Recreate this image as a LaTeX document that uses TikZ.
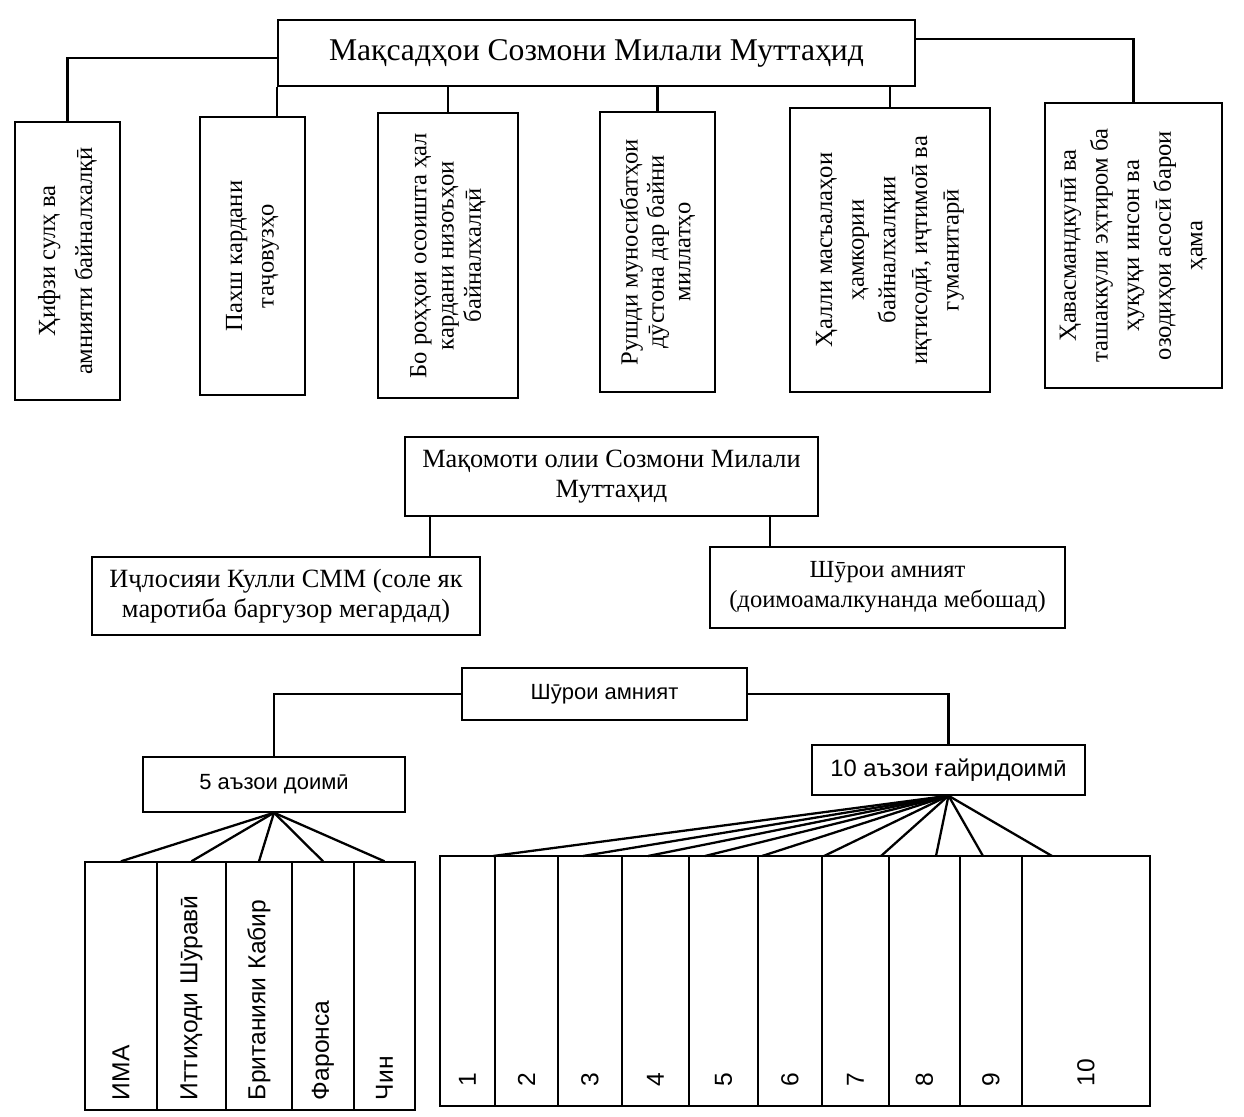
\documentclass[tikz,border=0pt]{standalone}
\usepackage{fontspec}
\setmainfont{Liberation Serif}
\newfontfamily\sansfont{Liberation Sans}
\usepackage{tikz}

\begin{document}
\begin{tikzpicture}[x=0.2mm, y=-0.2mm,
  box/.style={draw, line width=0.8pt, inner sep=2pt, align=center},
  goalbox/.style={box, rotate=90, font=\fontsize{14}{18}\selectfont},
  orgbox/.style={box, font=\fontsize{15}{17}\selectfont},
  smallbox/.style={box, font=\sansfont\fontsize{12.5}{14}\selectfont},
  seatbox/.style={draw, line width=0.8pt, rotate=90, inner xsep=2mm, inner ysep=0pt, align=left, font=\sansfont\fontsize{14}{16}\selectfont},
  link/.style={line width=1.3pt}]
\useasboundingbox (0,0) rectangle (1244,1117);

\node[orgbox, font=\fontsize{18}{20}\selectfont, minimum width=127.4mm, minimum height=13.2mm] (goal) at (596.5,53) {Мақсадҳои Созмони Милали Муттаҳид};

\node[goalbox, font=\fontsize{14}{21}\selectfont, minimum width=55.6mm, minimum height=21mm] (g1) at (67.5,261) {Ҳифзи сулҳ ва\\амнияти байналхалқӣ};
\node[goalbox, minimum width=55.6mm, minimum height=21mm] (g2) at (252.5,256) {Пахш кардани\\таҷовузҳо};
\node[goalbox, font=\fontsize{14}{15.5}\selectfont, minimum width=57mm, minimum height=28mm] (g3) at (448,255.5) {Бо роҳҳои осоишта ҳал\\кардани низоъҳои\\байналхалқӣ};
\node[goalbox, font=\fontsize{14}{15}\selectfont, minimum width=56mm, minimum height=23mm] (g4) at (657.5,252) {Рушди муносибатҳои\\дӯстона дар байни\\миллатҳо};
\node[goalbox, minimum width=56.8mm, minimum height=40mm] (g5) at (890,250) {Ҳалли масъалаҳои\\ҳамкории\\байналхалқии\\иқтисодӣ, иҷтимоӣ ва\\гуманитарӣ};
\node[goalbox, minimum width=57mm, minimum height=35.4mm] (g6) at (1133.5,245.5) {Ҳавасмандкунӣ ва\\ташаккули эҳтиром ба\\ҳуқуқи инсон ва\\озодиҳои асосӣ барои\\ҳама};

\draw[link] ([yshift=-7.8mm]goal.north west) -| (g1.east);
\draw[link] ([yshift=-4mm]goal.north east) -| (g6.east);
\draw[link] (goal.south west) -- (goal.south west |- g2.east);
\draw[link] (g3.east) -- (g3.east |- goal.south);
\draw[link] (g4.east) -- (g4.east |- goal.south);
\draw[link] (g5.east) -- (g5.east |- goal.south);

\node[orgbox, minimum width=82.6mm, minimum height=15.8mm] (org) at (611.5,476.5) {Мақомоти олии Созмони Милали\\Муттаҳид};
\node[orgbox, minimum width=77.6mm, minimum height=15.6mm] (gen) at (286,596) {Иҷлосияи Кулли СММ (соле як\\маротиба баргузор мегардад)};
\node[orgbox, font=\fontsize{14}{17}\selectfont, minimum width=71mm, minimum height=16.2mm] (sec) at (887.5,587.5) {Шӯрои амният\\(доимоамалкунанда мебошад)};

\draw[link] ([xshift=5.2mm]org.south west) -- ([xshift=5.2mm]org.south west |- gen.north);
\draw[link] ([xshift=-9.8mm]org.south east) -- ([xshift=-9.8mm]org.south east |- sec.north);

\node[smallbox, minimum width=57mm, minimum height=10.4mm] (council) at (604.5,694) {Шӯрои амният};
\node[smallbox, minimum width=52.4mm, minimum height=11mm] (five) at (274,784.5) {5 аъзои доимӣ};
\node[smallbox, font=\sansfont\fontsize{13.5}{15}\selectfont, minimum width=54.6mm, minimum height=10mm] (ten) at (948.5,770) {10 аъзои ғайридоимӣ};

\draw[link] (council.west) -| (five.north);
\draw[link] (council.east) -| (ten.north);

\foreach \name/\cx/\w [count=\k] in {ИМА/121/14.4, Иттиҳоди Шӯравӣ/191.5/13.8, Британияи Кабир/259/13.2, Фаронса/323/12.4, Чин/384.5/12.2}
{
  \node[seatbox, minimum width=49.6mm, text width=45.6mm, minimum height=\w mm] (m\k) at (\cx,986) {\name};
  \draw[link] (five.south) -- (m\k.east);
}

\foreach \a/\b/\e [count=\k] in {440/495/493, 495/558/583, 558/622/648, 622/689/705, 689/758/762, 758/822/824, 822/889/881, 889/960/936, 960/1022/983, 1022/1150/1052}
{
  \node[seatbox, inner xsep=4mm, minimum width=50mm, text width=42mm, minimum height={(\b-\a)*0.2mm}] (s\k) at ({(\a+\b)/2},981) {\k};
  \coordinate (e\k) at (\e,856);
  \draw[link] (ten.south) -- (e\k);
}
\end{tikzpicture}
\end{document}
